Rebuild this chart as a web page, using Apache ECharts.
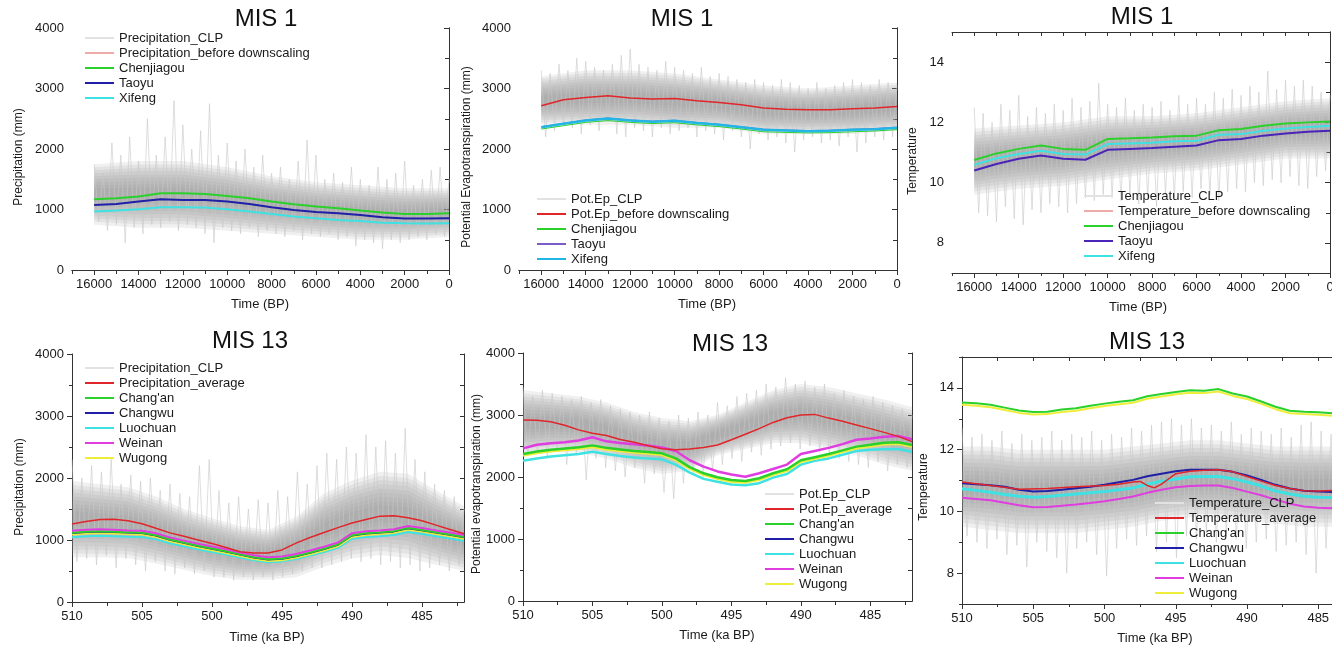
<!DOCTYPE html>
<html>
<head>
<meta charset="utf-8">
<script src="https://cdn.jsdelivr.net/npm/echarts@6.0.0/dist/echarts.min.js"></script>
<style>
html, body { margin: 0; padding: 0; background: #fff; width: 1332px; height: 649px; overflow: hidden; }
.panel { position: absolute; left: 0; top: 0; width: 1380px; height: 649px; }
</style>
</head>
<body>
<div id="p1" class="panel"></div>
<div id="p2" class="panel"></div>
<div id="p3" class="panel"></div>
<div id="p4" class="panel"></div>
<div id="p5" class="panel"></div>
<div id="p6" class="panel"></div>
<script>
// ---------- time axes ----------
const mis1Years = [16000, 15000, 14000, 13000, 12000, 11000, 10000, 9000, 8000, 7000, 6000, 5000, 4000, 3000, 2000, 1000, 0];
const mis1CoreYears = [16000, 14000, 12000, 10000, 8000, 6000, 4000, 2000, 0];
const mis13Ka = [510, 509, 508, 507, 506, 505, 504, 503, 502, 501, 500, 499, 498, 497, 496, 495, 494, 493, 492, 491, 490, 489, 488, 487, 486, 485, 484, 483, 482];
const mis13CoreKa = [510, 508, 506, 504, 502, 500, 498, 496, 494, 492, 490, 488, 486, 484, 482];
const mis1NoiseStart = 16000, mis1NoiseStep = 200;
const mis13NoiseStart = 510, mis13NoiseStep = 0.35;

// ---------- tick values ----------
const mis1MajorTicks = [0, 2000, 4000, 6000, 8000, 10000, 12000, 14000, 16000];
const mis1MinorTicks = [1000, 3000, 5000, 7000, 9000, 11000, 13000, 15000, 17000];
const mis13MajorTicks = [485, 490, 495, 500, 505, 510];
const mis13MinorTicks = [482.5, 487.5, 492.5, 497.5, 502.5, 507.5];
const mmMajorTicks = [0, 1000, 2000, 3000, 4000];
const mmMinorTicks = [500, 1500, 2500, 3500];
const tempMajorTicks = [8, 10, 12, 14];
const tempMinorTicks = [7, 9, 11, 13, 15];

// ---------- MIS 1 precipitation ----------
const p1Chenjiagou = [1170, 1186, 1214, 1270, 1270, 1258, 1225, 1186, 1131, 1087, 1048, 1020, 982, 949, 927, 927, 938];
const p1Taoyu = [1076, 1092, 1131, 1170, 1159, 1159, 1131, 1092, 1037, 993, 960, 938, 910, 872, 850, 850, 855];
const p1Xifeng = [966, 982, 1004, 1037, 1037, 1032, 1004, 966, 927, 883, 855, 828, 811, 783, 772, 767, 772];
const p1CoreHi = [1750, 1800, 1800, 1700, 1550, 1450, 1400, 1350, 1350];
const p1CoreLo = [750, 700, 700, 650, 600, 550, 500, 500, 550];
const p1Clp = [
  1750, 800, 1600, 650, 2100, 750, 1900, 450, 2200, 700,
  1800, 600, 2500, 750, 1900, 700, 2200, 800, 2800, 650,
  2400, 750, 2000, 700, 2300, 600, 2750, 450, 1900, 700,
  2100, 650, 1800, 600, 2000, 700, 1700, 550, 1900, 650,
  1600, 600, 1700, 550, 1500, 650, 1800, 500, 2150, 600,
  1900, 550, 1500, 600, 1600, 500, 1450, 550, 1700, 400,
  1500, 500, 1400, 450, 1700, 350, 1500, 500, 1600, 450,
  1800, 500, 1400, 550, 1500, 500, 1650, 600, 1700, 550,
  1500];

// ---------- MIS 1 potential evapotranspiration ----------
const p2BeforeDownscaling = [2714, 2814, 2852, 2880, 2841, 2825, 2836, 2797, 2770, 2731, 2676, 2659, 2648, 2648, 2665, 2676, 2703];
const p2Chenjiagou = [2330, 2385, 2440, 2470, 2440, 2420, 2435, 2398, 2370, 2330, 2285, 2275, 2265, 2270, 2285, 2298, 2320];
const p2Taoyu = [2370, 2425, 2480, 2512, 2480, 2460, 2475, 2437, 2410, 2370, 2327, 2315, 2305, 2310, 2327, 2338, 2360];
const p2Xifeng = [2361, 2417, 2472, 2505, 2472, 2450, 2466, 2428, 2400, 2361, 2317, 2306, 2295, 2301, 2317, 2328, 2350];
const p2CoreHi = [3200, 3300, 3300, 3250, 3150, 3050, 3000, 3050, 3100];
const p2CoreLo = [2400, 2400, 2400, 2350, 2350, 2250, 2250, 2250, 2300];
const p2Clp = [
  3300, 2200, 3250, 2300, 3400, 2400, 3300, 2350, 3500, 2250,
  3450, 2400, 3350, 2300, 3300, 2450, 3400, 2250, 3550, 2200,
  3650, 2350, 3400, 2300, 3350, 2200, 3300, 2350, 3450, 2250,
  3350, 2300, 3300, 2350, 3250, 2200, 3350, 2300, 3200, 2250,
  3250, 2150, 3200, 2300, 3150, 2200, 3100, 2000, 3150, 2250,
  3100, 2150, 3050, 2200, 3150, 2100, 3100, 1950, 3050, 2150,
  3000, 2200, 3100, 2100, 3000, 2150, 3050, 2050, 3100, 2200,
  3150, 1950, 3100, 2100, 3050, 2200, 3150, 2150, 3100, 2200,
  3050];

// ---------- MIS 1 temperature ----------
const p3Chenjiagou = [10.75, 10.97, 11.12, 11.23, 11.12, 11.09, 11.45, 11.47, 11.50, 11.54, 11.56, 11.74, 11.78, 11.89, 11.96, 12.00, 12.03];
const p3Taoyu = [10.40, 10.62, 10.79, 10.90, 10.79, 10.76, 11.09, 11.12, 11.15, 11.19, 11.23, 11.41, 11.45, 11.56, 11.63, 11.69, 11.72];
const p3Xifeng = [10.59, 10.81, 10.95, 11.06, 10.95, 10.93, 11.28, 11.30, 11.32, 11.37, 11.39, 11.59, 11.61, 11.72, 11.80, 11.85, 11.89];
const p3CoreHi = [11.8, 11.9, 12.0, 12.2, 12.2, 12.3, 12.5, 12.7, 12.8];
const p3CoreLo = [9.6, 9.8, 9.9, 10.1, 10.3, 10.4, 10.6, 10.8, 10.8];
const p3Clp = [
  12.5, 9.0, 12.3, 8.9, 12.0, 8.7, 12.6, 9.2, 12.4, 8.8,
  12.9, 8.6, 12.2, 9.1, 12.5, 9.0, 12.3, 9.3, 12.6, 9.2,
  12.4, 9.0, 12.8, 9.3, 12.5, 9.5, 12.7, 9.4, 13.3, 9.6,
  12.6, 9.5, 12.5, 9.4, 12.8, 9.6, 12.4, 9.3, 12.6, 9.5,
  12.5, 9.2, 12.7, 9.6, 12.4, 9.5, 12.9, 9.7, 12.6, 9.5,
  12.8, 9.8, 12.6, 9.6, 13.0, 9.4, 12.8, 9.7, 13.1, 9.8,
  12.9, 9.7, 13.2, 10.0, 13.0, 9.9, 13.7, 10.1, 13.1, 10.0,
  13.4, 10.2, 13.2, 9.9, 13.4, 9.8, 13.2, 10.2, 13.0, 10.4,
  12.9];

// ---------- MIS 13 precipitation ----------
const p4Average = [1258, 1300, 1330, 1335, 1310, 1262, 1190, 1115, 1060, 1000, 945, 880, 810, 790, 790, 840, 950, 1040, 1120, 1200, 1275, 1330, 1385, 1392, 1360, 1310, 1240, 1170, 1100];
const p4Changan = [1118, 1133, 1140, 1133, 1123, 1118, 1078, 1008, 958, 908, 863, 818, 768, 723, 688, 703, 743, 798, 858, 928, 1078, 1108, 1123, 1143, 1193, 1163, 1123, 1088, 1048];
const p4Changwu = [1110, 1125, 1132, 1125, 1115, 1110, 1070, 1000, 950, 900, 855, 810, 760, 715, 680, 695, 735, 790, 850, 920, 1070, 1100, 1115, 1135, 1185, 1155, 1115, 1080, 1040];
const p4Luochuan = [1045, 1060, 1067, 1062, 1052, 1048, 1010, 945, 897, 850, 808, 765, 718, 675, 642, 655, 695, 748, 805, 873, 1020, 1048, 1062, 1080, 1128, 1098, 1060, 1025, 985];
const p4Weinan = [1150, 1165, 1172, 1165, 1155, 1150, 1110, 1040, 990, 940, 895, 850, 800, 755, 720, 735, 775, 830, 890, 960, 1110, 1140, 1155, 1175, 1225, 1195, 1155, 1120, 1080];
const p4Wugong = [1090, 1105, 1112, 1105, 1095, 1090, 1050, 980, 930, 880, 835, 790, 740, 695, 660, 675, 715, 770, 830, 900, 1050, 1080, 1095, 1115, 1165, 1135, 1095, 1060, 1020];
const p4CoreHi = [1950, 1900, 1850, 1700, 1500, 1350, 1220, 1160, 1370, 1750, 1960, 2100, 2070, 1800, 1550];
const p4CoreLo = [720, 720, 710, 620, 520, 420, 360, 360, 400, 570, 700, 760, 710, 600, 500];
const p4Clp = [
  2300, 650, 2000, 700, 2200, 600, 2100, 750, 2300, 550,
  1900, 700, 2050, 600, 1950, 500, 2000, 650, 1800, 500,
  1900, 450, 1750, 550, 1700, 450, 2200, 500, 2300, 400,
  1800, 400, 1600, 350, 1700, 400, 1500, 350, 1650, 400,
  1600, 350, 1800, 400, 1700, 450, 2100, 500, 1900, 550,
  2200, 550, 2400, 600, 2300, 650, 2500, 700, 2400, 650,
  2700, 700, 2500, 600, 2600, 650, 2400, 550, 2800, 600,
  2300, 500, 2100, 550, 1900, 600, 1800, 500, 1700, 600,
  1500];

// ---------- MIS 13 potential evapotranspiration ----------
const p5Average = [2919, 2915, 2890, 2835, 2760, 2705, 2670, 2605, 2560, 2505, 2455, 2440, 2450, 2475, 2515, 2600, 2690, 2780, 2880, 2955, 3000, 3010, 2950, 2900, 2840, 2780, 2720, 2655, 2570];
const p5Changan = [2371, 2410, 2440, 2460, 2480, 2510, 2470, 2445, 2420, 2405, 2382, 2300, 2160, 2060, 1995, 1950, 1935, 1980, 2060, 2124, 2270, 2320, 2370, 2430, 2490, 2520, 2553, 2560, 2516];
const p5Changwu = [2361, 2400, 2430, 2450, 2470, 2500, 2460, 2435, 2410, 2395, 2372, 2290, 2150, 2050, 1985, 1940, 1925, 1970, 2050, 2114, 2260, 2310, 2360, 2420, 2480, 2510, 2543, 2550, 2506];
const p5Luochuan = [2263, 2300, 2330, 2350, 2370, 2408, 2370, 2340, 2315, 2300, 2285, 2200, 2070, 1970, 1925, 1880, 1866, 1900, 1990, 2048, 2200, 2260, 2300, 2360, 2420, 2440, 2446, 2450, 2408];
const p5Weinan = [2462, 2520, 2545, 2560, 2590, 2640, 2575, 2550, 2530, 2510, 2475, 2420, 2270, 2167, 2090, 2040, 2005, 2060, 2130, 2200, 2370, 2420, 2470, 2530, 2600, 2620, 2650, 2660, 2608];
const p5Wugong = [2346, 2385, 2415, 2435, 2455, 2485, 2445, 2420, 2395, 2380, 2357, 2275, 2135, 2035, 1970, 1925, 1910, 1955, 2035, 2099, 2245, 2295, 2345, 2405, 2465, 2495, 2528, 2535, 2491];
const p5CoreHi = [3400, 3350, 3300, 3200, 3050, 2950, 2900, 3000, 3200, 3400, 3500, 3450, 3350, 3250, 3130];
const p5CoreLo = [2350, 2400, 2400, 2300, 2150, 2050, 2100, 2350, 2450, 2550, 2550, 2450, 2350, 2200, 2100];
const p5Clp = [
  3450, 2350, 3300, 2400, 3400, 2300, 3350, 2450, 3300, 2200,
  3250, 2350, 3300, 1950, 3200, 2300, 3250, 2150, 3150, 2100,
  3100, 2000, 3050, 2150, 3000, 1900, 3050, 2050, 2950, 1750,
  2900, 1650, 3000, 1900, 2950, 2050, 3050, 2000, 3000, 2100,
  3200, 2200, 3150, 2300, 3300, 2250, 3350, 2400, 3400, 2350,
  3500, 2450, 3450, 2500, 3600, 2550, 3500, 2450, 3550, 2500,
  3450, 2400, 3500, 2350, 3350, 2300, 3400, 2250, 3300, 2200,
  3250, 2150, 3300, 2250, 3200, 2100, 3150, 2200, 3100, 2150,
  3000];

// ---------- MIS 13 temperature ----------
const p6AverageKa = [510, 508, 506, 504, 502, 500, 499, 498, 497.5, 497, 496.5, 496, 495, 494, 493, 492, 491, 490, 489, 488, 487, 486, 485, 484, 483, 482];
const p6Average = [10.95, 10.84, 10.72, 10.74, 10.80, 10.84, 10.88, 10.95, 10.97, 10.84, 10.76, 10.88, 11.22, 11.30, 11.33, 11.35, 11.28, 11.13, 10.98, 10.84, 10.74, 10.67, 10.66, 10.68, 10.70, 10.72];
const p6Changan = [13.53, 13.50, 13.45, 13.36, 13.27, 13.22, 13.23, 13.30, 13.34, 13.42, 13.49, 13.55, 13.60, 13.73, 13.80, 13.87, 13.92, 13.91, 13.96, 13.82, 13.72, 13.56, 13.39, 13.26, 13.23, 13.21, 13.18, 13.16, 13.15];
const p6Changwu = [10.91, 10.88, 10.85, 10.80, 10.70, 10.64, 10.66, 10.70, 10.75, 10.80, 10.86, 10.94, 11.02, 11.14, 11.22, 11.30, 11.35, 11.35, 11.35, 11.28, 11.16, 11.02, 10.86, 10.74, 10.67, 10.64, 10.63, 10.62, 10.62];
const p6Luochuan = [10.73, 10.68, 10.62, 10.55, 10.49, 10.46, 10.48, 10.52, 10.56, 10.60, 10.64, 10.70, 10.76, 10.88, 10.98, 11.05, 11.12, 11.13, 11.13, 11.06, 10.95, 10.82, 10.66, 10.56, 10.49, 10.46, 10.45, 10.44, 10.43];
const p6Weinan = [10.44, 10.40, 10.36, 10.28, 10.20, 10.13, 10.14, 10.18, 10.22, 10.27, 10.33, 10.40, 10.48, 10.60, 10.70, 10.78, 10.82, 10.84, 10.84, 10.76, 10.64, 10.52, 10.38, 10.25, 10.16, 10.12, 10.10, 10.09, 10.08];
const p6Wugong = [13.45, 13.42, 13.37, 13.28, 13.19, 13.14, 13.15, 13.22, 13.26, 13.34, 13.41, 13.47, 13.52, 13.65, 13.72, 13.79, 13.84, 13.83, 13.88, 13.74, 13.64, 13.48, 13.31, 13.18, 13.15, 13.13, 13.10, 13.08, 13.07];
const p6CoreHi = [12.1, 12.1, 12.0, 12.0, 12.0, 12.0, 12.1, 12.2, 12.3, 12.3, 12.2, 12.1, 12.1, 12.1, 12.1];
const p6CoreLo = [9.5, 9.4, 9.3, 9.3, 9.3, 9.4, 9.5, 9.7, 9.8, 9.8, 9.7, 9.6, 9.5, 9.5, 9.5];
const p6Clp = [
  12.7, 9.2, 12.4, 9.0, 12.5, 8.8, 12.3, 9.1, 12.6, 8.6,
  12.2, 8.9, 12.5, 8.2, 12.3, 9.0, 12.4, 8.7, 12.6, 8.5,
  12.3, 8.0, 12.5, 8.8, 12.4, 9.0, 12.6, 8.6, 12.3, 7.9,
  12.5, 8.8, 12.4, 9.1, 12.7, 8.9, 12.6, 9.2, 12.8, 8.7,
  12.9, 9.0, 13.0, 8.5, 12.8, 9.2, 13.0, 9.1, 12.7, 9.3,
  12.8, 9.0, 12.6, 9.2, 12.9, 9.1, 12.5, 8.8, 12.7, 9.0,
  12.6, 9.1, 12.5, 8.7, 12.7, 8.9, 12.4, 9.0, 12.8, 8.6,
  12.9, 8.0, 12.6, 8.8, 12.5, 9.0, 12.7, 8.9, 12.4, 9.1,
  12.5];

// ---------- styling ----------
const FONT = '"Liberation Sans", Arial, sans-serif';
const AXIS_COLOR = '#333';
const TEXT_COLOR = '#1a1a1a';
// thin translucent layers stacked towards the middle give the core a soft edge
const CORE_LAYER_FILL = 'rgba(140,140,140,0.13)';
const CORE_LAYER_INSETS = [0, 0.05, 0.1, 0.15, 0.2, 0.25, 0.3, 0.35, 0.4];
const NOISE_COLOR = '#c8c8c8';
const C = {
  red: '#e0262a', green: '#2bd12b', navy: '#1f1fa8', indigo: '#4a23b8', cyan: '#3fe2e2',
  skyblue: '#22b6e6', violet: '#7a5cc8', magenta: '#e03de0', yellow: '#eeee3a', pink: '#efaaaa'
};

function pairs(xs, ys) { return xs.map((x, i) => [x, ys[i]]); }
function noisePairs(start, step, vals) { return vals.map((v, i) => [+(start - i * step).toFixed(3), v]); }
function plainNumber(v) { return String(v); }

function line(name, xs, ys, color, width) {
  return {
    type: 'line', name: name, data: pairs(xs, ys), symbol: 'none', showSymbol: false,
    lineStyle: { color: color, width: width }, itemStyle: { color: color }, z: 3, silent: true
  };
}

function legendOnly(name, color, width) {
  return { type: 'line', name: name, data: [], symbol: 'none', lineStyle: { color: color, width: width }, itemStyle: { color: color } };
}

// dense CLP core: translucent nested polygons, darker towards the middle
function coreBand(xs, hi, lo) {
  return {
    type: 'custom', name: 'core', coordinateSystem: 'cartesian2d', xAxisIndex: 0, yAxisIndex: 0,
    data: [[xs[0], hi[0]]], z: 1, silent: true, clip: true,
    renderItem: function (params, api) {
      const children = CORE_LAYER_INSETS.map(f => {
        const upper = xs.map((x, i) => api.coord([x, hi[i] - f * (hi[i] - lo[i])]));
        const lower = xs.map((x, i) => api.coord([x, lo[i] + f * (hi[i] - lo[i])])).reverse();
        return { type: 'polygon', shape: { points: upper.concat(lower) }, style: { fill: CORE_LAYER_FILL, stroke: null } };
      });
      return { type: 'group', children: children };
    }
  };
}

function buildPanel(id, cfg) {
  const chart = echarts.init(document.getElementById(id), null, { renderer: 'canvas', width: 1380, height: 649 });
  const r = cfg.rect;
  const gridRect = { left: r.left, top: r.top, width: r.width, height: r.height, containLabel: false, outerBoundsMode: 'none' };
  const axisLine = { show: true, lineStyle: { color: AXIS_COLOR, width: 1 } };
  const tickLine = { color: AXIS_COLOR, width: 1 };
  const labelStyle = { fontSize: 13, color: TEXT_COLOR, fontFamily: FONT, formatter: plainNumber };
  const xBase = { type: 'value', min: cfg.x[0], max: cfg.x[1], inverse: true, splitLine: { show: false } };
  const yBase = { type: 'value', min: cfg.y[0], max: cfg.y[1], splitLine: { show: false } };

  const series = [];
  series.push(coreBand(cfg.band.xs, cfg.band.hi, cfg.band.lo));
  // high-frequency CLP series
  series.push({
    type: 'line', name: cfg.noise.name, data: noisePairs(cfg.noise.start, cfg.noise.step, cfg.noise.vals),
    symbol: 'none', lineStyle: { color: NOISE_COLOR, width: 0.6 }, itemStyle: { color: '#e2e2e2' }, z: 2, silent: true
  });
  cfg.extra.forEach(s => series.push(s));

  const legendNames = [cfg.noise.name].concat(cfg.legendNames);

  chart.setOption({
    animation: false,
    grid: [Object.assign({}, gridRect), Object.assign({}, gridRect)],
    xAxis: [
      Object.assign({}, xBase, {
        gridIndex: 0, position: 'bottom', axisLine: axisLine,
        axisTick: { show: true, inside: false, length: 5, lineStyle: tickLine, customValues: cfg.xMajor },
        axisLabel: Object.assign({ show: true, margin: 8, customValues: cfg.xMajor }, labelStyle)
      }),
      Object.assign({}, xBase, {
        gridIndex: 0, position: 'top', axisLine: axisLine,
        axisTick: { show: true, inside: true, length: 4, lineStyle: tickLine, customValues: cfg.xMajor.concat(cfg.xMinor) },
        axisLabel: { show: false }
      }),
      Object.assign({}, xBase, {
        gridIndex: 1, position: 'bottom', axisLine: { show: false },
        axisTick: { show: true, inside: false, length: 3, lineStyle: tickLine, customValues: cfg.xMinor },
        axisLabel: { show: false }
      })
    ],
    yAxis: [
      Object.assign({}, yBase, {
        gridIndex: 0, position: 'left', axisLine: axisLine,
        axisTick: { show: true, inside: false, length: 5, lineStyle: tickLine, customValues: cfg.yMajor },
        axisLabel: Object.assign({ show: true, margin: 8, customValues: cfg.yMajor }, labelStyle)
      }),
      Object.assign({}, yBase, {
        gridIndex: 0, position: 'right', axisLine: axisLine,
        axisTick: { show: true, inside: true, length: 4, lineStyle: tickLine, customValues: cfg.yMajor.concat(cfg.yMinor) },
        axisLabel: { show: false }
      }),
      Object.assign({}, yBase, {
        gridIndex: 1, position: 'left', axisLine: { show: false },
        axisTick: { show: true, inside: false, length: 3, lineStyle: tickLine, customValues: cfg.yMinor },
        axisLabel: { show: false }
      })
    ],
    legend: {
      show: true, orient: 'vertical', left: cfg.legend.left, top: cfg.legend.top,
      icon: 'rect', itemWidth: 29, itemHeight: 2, itemGap: 2, padding: 0, selectedMode: false,
      textStyle: { fontSize: 13, color: TEXT_COLOR, fontFamily: FONT },
      data: legendNames
    },
    graphic: [
      { type: 'text', x: cfg.title.x, y: cfg.title.y, silent: true,
        style: { text: cfg.title.text, fontSize: 24, fontFamily: FONT, fill: '#111',
                 textAlign: 'center', textVerticalAlign: 'middle', align: 'center', verticalAlign: 'middle' } },
      { type: 'text', x: cfg.xName.x, y: cfg.xName.y, silent: true,
        style: { text: cfg.xName.text, fontSize: 13, fontFamily: FONT, fill: TEXT_COLOR,
                 textAlign: 'center', textVerticalAlign: 'middle', align: 'center', verticalAlign: 'middle' } },
      { type: 'text', x: cfg.yName.x, y: cfg.yName.y, rotation: Math.PI / 2, silent: true,
        style: { text: cfg.yName.text, fontSize: 12, fontFamily: FONT, fill: TEXT_COLOR,
                 textAlign: 'center', textVerticalAlign: 'middle', align: 'center', verticalAlign: 'middle' } }
    ],
    series: series
  });
}

// ---------- panels ----------
buildPanel('p1', {
  rect: { left: 72, top: 28, width: 377, height: 242 },
  x: [0, 17000], y: [0, 4000],
  xMajor: mis1MajorTicks, xMinor: mis1MinorTicks, yMajor: mmMajorTicks, yMinor: mmMinorTicks,
  title: { text: 'MIS 1', x: 266, y: 19 },
  xName: { text: 'Time (BP)', x: 260, y: 304 },
  yName: { text: 'Precipitation (mm)', x: 19, y: 157 },
  legend: { left: 85, top: 31.5 },
  band: { xs: mis1CoreYears, hi: p1CoreHi, lo: p1CoreLo },
  noise: { name: 'Precipitation_CLP', start: mis1NoiseStart, step: mis1NoiseStep, vals: p1Clp },
  legendNames: ['Precipitation_before downscaling', 'Chenjiagou', 'Taoyu', 'Xifeng'],
  extra: [
    legendOnly('Precipitation_before downscaling', C.pink, 1),
    line('Xifeng', mis1Years, p1Xifeng, C.cyan, 2),
    line('Taoyu', mis1Years, p1Taoyu, C.navy, 2),
    line('Chenjiagou', mis1Years, p1Chenjiagou, C.green, 2)
  ]
});

buildPanel('p2', {
  rect: { left: 519, top: 28, width: 378, height: 242 },
  x: [0, 17000], y: [0, 4000],
  xMajor: mis1MajorTicks, xMinor: mis1MinorTicks, yMajor: mmMajorTicks, yMinor: mmMinorTicks,
  title: { text: 'MIS 1', x: 682, y: 19 },
  xName: { text: 'Time (BP)', x: 707, y: 304 },
  yName: { text: 'Potential Evapotranspiration (mm)', x: 467, y: 157 },
  legend: { left: 537, top: 192.5 },
  band: { xs: mis1CoreYears, hi: p2CoreHi, lo: p2CoreLo },
  noise: { name: 'Pot.Ep_CLP', start: mis1NoiseStart, step: mis1NoiseStep, vals: p2Clp },
  legendNames: ['Pot.Ep_before downscaling', 'Chenjiagou', 'Taoyu', 'Xifeng'],
  extra: [
    line('Pot.Ep_before downscaling', mis1Years, p2BeforeDownscaling, C.red, 1.5),
    line('Chenjiagou', mis1Years, p2Chenjiagou, C.green, 1),
    line('Taoyu', mis1Years, p2Taoyu, C.violet, 1),
    line('Xifeng', mis1Years, p2Xifeng, C.skyblue, 2.5)
  ]
});

buildPanel('p3', {
  rect: { left: 952, top: 32, width: 378, height: 241 },
  x: [0, 17000], y: [7, 15],
  xMajor: mis1MajorTicks, xMinor: mis1MinorTicks, yMajor: tempMajorTicks, yMinor: tempMinorTicks,
  title: { text: 'MIS 1', x: 1142, y: 17 },
  xName: { text: 'Time (BP)', x: 1138, y: 307 },
  yName: { text: 'Temperature', x: 913, y: 161 },
  legend: { left: 1084, top: 189.5 },
  band: { xs: mis1CoreYears, hi: p3CoreHi, lo: p3CoreLo },
  noise: { name: 'Temperature_CLP', start: mis1NoiseStart, step: mis1NoiseStep, vals: p3Clp },
  legendNames: ['Temperature_before downscaling', 'Chenjiagou', 'Taoyu', 'Xifeng'],
  extra: [
    legendOnly('Temperature_before downscaling', C.pink, 1),
    line('Xifeng', mis1Years, p3Xifeng, C.cyan, 2),
    line('Taoyu', mis1Years, p3Taoyu, C.indigo, 2),
    line('Chenjiagou', mis1Years, p3Chenjiagou, C.green, 2)
  ]
});

buildPanel('p4', {
  rect: { left: 72, top: 354, width: 392, height: 248 },
  x: [482, 510], y: [0, 4000],
  xMajor: mis13MajorTicks, xMinor: mis13MinorTicks, yMajor: mmMajorTicks, yMinor: mmMinorTicks,
  title: { text: 'MIS 13', x: 250, y: 341 },
  xName: { text: 'Time (ka BP)', x: 267, y: 637 },
  yName: { text: 'Precipitation (mm)', x: 20, y: 487 },
  legend: { left: 85, top: 361.5 },
  band: { xs: mis13CoreKa, hi: p4CoreHi, lo: p4CoreLo },
  noise: { name: 'Precipitation_CLP', start: mis13NoiseStart, step: mis13NoiseStep, vals: p4Clp },
  legendNames: ['Precipitation_average', "Chang'an", 'Changwu', 'Luochuan', 'Weinan', 'Wugong'],
  extra: [
    line('Luochuan', mis13Ka, p4Luochuan, C.cyan, 2),
    line('Wugong', mis13Ka, p4Wugong, C.yellow, 2),
    line('Changwu', mis13Ka, p4Changwu, C.navy, 1.5),
    line("Chang'an", mis13Ka, p4Changan, C.green, 2),
    line('Weinan', mis13Ka, p4Weinan, C.magenta, 2),
    line('Precipitation_average', mis13Ka, p4Average, C.red, 1.5)
  ]
});

buildPanel('p5', {
  rect: { left: 523, top: 353, width: 389, height: 248 },
  x: [482, 510], y: [0, 4000],
  xMajor: mis13MajorTicks, xMinor: mis13MinorTicks, yMajor: mmMajorTicks, yMinor: mmMinorTicks,
  title: { text: 'MIS 13', x: 730, y: 344 },
  xName: { text: 'Time (ka BP)', x: 717, y: 635 },
  yName: { text: 'Potential evapotranspiration (mm)', x: 477, y: 484 },
  legend: { left: 765, top: 487.5 },
  band: { xs: mis13CoreKa, hi: p5CoreHi, lo: p5CoreLo },
  noise: { name: 'Pot.Ep_CLP', start: mis13NoiseStart, step: mis13NoiseStep, vals: p5Clp },
  legendNames: ['Pot.Ep_average', "Chang'an", 'Changwu', 'Luochuan', 'Weinan', 'Wugong'],
  extra: [
    line('Luochuan', mis13Ka, p5Luochuan, C.cyan, 2.5),
    line('Changwu', mis13Ka, p5Changwu, C.navy, 1.5),
    line('Wugong', mis13Ka, p5Wugong, C.yellow, 2.5),
    line("Chang'an", mis13Ka, p5Changan, C.green, 2.5),
    line('Weinan', mis13Ka, p5Weinan, C.magenta, 2.5),
    line('Pot.Ep_average', mis13Ka, p5Average, C.red, 1.5)
  ]
});

buildPanel('p6', {
  rect: { left: 962, top: 357, width: 399, height: 247 },
  x: [482, 510], y: [7, 15],
  xMajor: mis13MajorTicks, xMinor: mis13MinorTicks, yMajor: tempMajorTicks, yMinor: tempMinorTicks,
  title: { text: 'MIS 13', x: 1147, y: 342 },
  xName: { text: 'Time (ka BP)', x: 1155, y: 638 },
  yName: { text: 'Temperature', x: 924, y: 487 },
  legend: { left: 1155, top: 496.5 },
  band: { xs: mis13CoreKa, hi: p6CoreHi, lo: p6CoreLo },
  noise: { name: 'Temperature_CLP', start: mis13NoiseStart, step: mis13NoiseStep, vals: p6Clp },
  legendNames: ['Temperature_average', "Chang'an", 'Changwu', 'Luochuan', 'Weinan', 'Wugong'],
  extra: [
    line('Wugong', mis13Ka, p6Wugong, C.yellow, 2),
    line("Chang'an", mis13Ka, p6Changan, C.green, 2),
    line('Weinan', mis13Ka, p6Weinan, C.magenta, 2),
    line('Luochuan', mis13Ka, p6Luochuan, C.cyan, 3),
    line('Changwu', mis13Ka, p6Changwu, C.navy, 2),
    line('Temperature_average', p6AverageKa, p6Average, C.red, 1.5)
  ]
});
</script>
</body>
</html>
